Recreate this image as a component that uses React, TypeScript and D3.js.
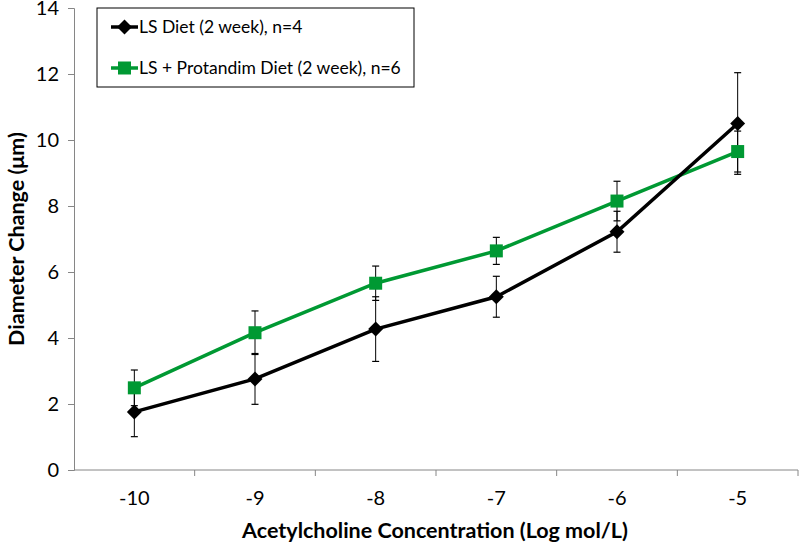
import React, { useEffect, useRef } from 'react';
import * as d3 from 'd3';

const categories = ['-10', '-9', '-8', '-7', '-6', '-5'];
const lsMean = [1.76, 2.76, 4.27, 5.25, 7.22, 10.5];
const lsErr = [0.75, 0.77, 0.98, 0.62, 0.62, 1.54];
const protMean = [2.49, 4.16, 5.66, 6.64, 8.15, 9.65];
const protErr = [0.54, 0.66, 0.52, 0.41, 0.6, 0.62];
const yTicks = [0, 2, 4, 6, 8, 10, 12, 14];

const FONT = 'Lato, "Open Sans", sans-serif';

export default function App() {
  const svgRef = useRef<SVGSVGElement>(null);

  useEffect(() => {
    const width = 800;
    const height = 545;
    const margin = { top: 8, right: 2, bottom: 75, left: 74 };
    const innerW = width - margin.left - margin.right;
    const innerH = height - margin.top - margin.bottom;

    const svg = d3.select(svgRef.current);
    svg.selectAll('*').remove();
    svg.attr('width', width).attr('height', height);

    const g = svg.append('g').attr('transform', `translate(${margin.left},${margin.top})`);

    const x = d3.scaleBand().domain(categories).range([0, innerW]);
    const y = d3.scaleLinear().domain([0, 14]).range([innerH, 0]);
    const cx = (c: string) => (x(c) as number) + x.bandwidth() / 2;

    // y axis
    const yAxis = g.append('g').call(d3.axisLeft(y).tickValues(yTicks).tickSize(6).tickPadding(9));
    yAxis.select('.domain').attr('stroke', '#868686');
    yAxis.selectAll('.tick line').attr('stroke', '#868686');
    yAxis.selectAll('.tick text').attr('font-family', FONT).attr('font-size', 20).attr('fill', '#000');

    // x axis, ticks between categories
    const xAxis = g.append('g').attr('transform', `translate(0,${innerH})`);
    xAxis.append('line').attr('x1', 0).attr('x2', innerW).attr('stroke', '#868686');
    categories.forEach((c) => {
      const bx = (x(c) as number) + x.bandwidth();
      xAxis.append('line').attr('x1', bx).attr('x2', bx).attr('y1', 0).attr('y2', 6).attr('stroke', '#868686');
      xAxis.append('text')
        .attr('x', cx(c)).attr('y', 35)
        .attr('text-anchor', 'middle')
        .attr('font-family', FONT).attr('font-size', 20)
        .text(c);
    });

    // axis titles
    svg.append('text')
      .attr('x', margin.left + innerW / 2 - 1).attr('y', 538)
      .attr('text-anchor', 'middle')
      .attr('font-family', FONT).attr('font-size', 21.5).attr('font-weight', 'bold')
      .text('Acetylcholine Concentration (Log mol/L)');
    svg.append('text')
      .attr('transform', `translate(24,${margin.top + innerH / 2}) rotate(-90)`)
      .attr('text-anchor', 'middle')
      .attr('font-family', FONT).attr('font-size', 21.5).attr('font-weight', 'bold')
      .text('Diameter Change (μm)');

    const series = [
      { mean: protMean, err: protErr, color: '#009933', shape: 'square' },
      { mean: lsMean, err: lsErr, color: '#000000', shape: 'diamond' },
    ];

    const line = d3.line<number>()
      .x((_, i) => cx(categories[i]))
      .y((d) => y(d));

    // error bars
    series.forEach((s) => {
      s.mean.forEach((m, i) => {
        const px = cx(categories[i]);
        const top = y(m + s.err[i]);
        const bot = y(m - s.err[i]);
        g.append('line').attr('x1', px).attr('x2', px).attr('y1', top).attr('y2', bot).attr('stroke', '#000').attr('stroke-width', 1);
        [top, bot].forEach((yy) => {
          g.append('line').attr('x1', px - 3.5).attr('x2', px + 3.5).attr('y1', yy).attr('y2', yy).attr('stroke', '#000').attr('stroke-width', 1.2);
        });
      });
    });

    series.forEach((s) => {
      g.append('path')
        .datum(s.mean)
        .attr('fill', 'none')
        .attr('stroke', s.color)
        .attr('stroke-width', 3.5)
        .attr('d', line);
    });

    const square = d3.symbol().type(d3.symbolSquare).size(169)();
    const diamond = d3.symbol().type(d3.symbolSquare).size(112)();
    const markerTransform = (shape: string, px: number, py: number) =>
      shape === 'square' ? `translate(${px},${py})` : `translate(${px},${py}) rotate(45)`;

    series.forEach((s) => {
      g.selectAll(null)
        .data(s.mean)
        .enter()
        .append('path')
        .attr('d', s.shape === 'square' ? square : diamond)
        .attr('transform', (d, i) => markerTransform(s.shape, cx(categories[i]), y(d)))
        .attr('fill', s.color);
    });

    // legend
    const lg = svg.append('g').attr('transform', 'translate(97,8)');
    lg.append('rect').attr('width', 317).attr('height', 79).attr('fill', '#fff').attr('stroke', '#000').attr('stroke-width', 1);
    const legendItems = [
      { label: 'LS Diet (2 week), n=4', color: '#000000', shape: 'diamond', yy: 19 },
      { label: 'LS + Protandim Diet (2 week), n=6', color: '#009933', shape: 'square', yy: 60 },
    ];
    legendItems.forEach((it) => {
      lg.append('line').attr('x1', 14).attr('x2', 41).attr('y1', it.yy).attr('y2', it.yy).attr('stroke', it.color).attr('stroke-width', 3.5);
      lg.append('path')
        .attr('d', it.shape === 'square' ? square : diamond)
        .attr('transform', markerTransform(it.shape, 27.5, it.yy))
        .attr('fill', it.color);
      lg.append('text')
        .attr('x', 42).attr('y', it.yy + 6)
        .attr('font-family', FONT).attr('font-size', 17.5)
        .text(it.label);
    });
  }, []);

  return (
    <div style={{ position: 'absolute', left: 0, top: 0, background: '#fff' }}>
      <svg ref={svgRef} style={{ display: 'block' }}></svg>
    </div>
  );
}
